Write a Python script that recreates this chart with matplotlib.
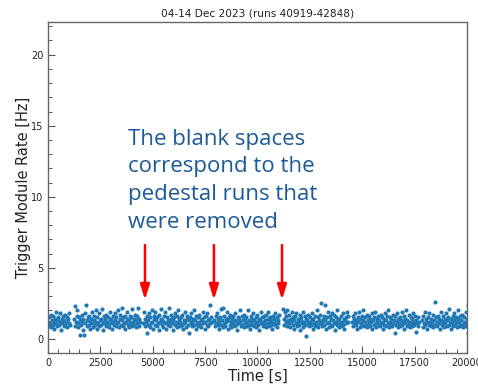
import numpy as np
import matplotlib
matplotlib.use("Agg")
import matplotlib.pyplot as plt
from matplotlib.ticker import MultipleLocator

# run blocks (start, stop) in seconds, pedestal runs already cut out
blocks = [(0, 1050), (1240, 4390), (4550, 7810), (7940, 11030),
          (11220, 14330), (14510, 17700), (17850, 20100)]

# trigger module rate per time bin [Hz], one list per block
rate1 = [1.2, 0.9, 1.5, 1.1, 1.7, 0.8, 1.3, 1.0, 1.6, 1.2, 0.7, 1.4, 1.9, 1.1, 0.9,
         1.3, 1.5, 1.0, 1.8, 1.2, 0.6, 1.4, 1.1, 1.6, 0.9, 1.3, 1.7, 1.0, 1.2, 1.5,
         0.8, 1.4, 1.1, 1.8, 1.0]
rate2 = [1.4, 2.3, 0.9, 1.2, 1.6, 2.0, 1.1, 0.8, 1.5, 0.3, 1.3, 1.0, 1.7, 1.2, 0.6,
         1.4, 0.3, 1.1, 1.8, 2.4, 0.9, 1.3, 1.5, 1.0, 1.6, 0.7, 1.2, 1.4, 1.9, 1.1,
         0.8, 1.3, 1.6, 1.0, 2.0, 1.2, 0.7, 1.5, 1.1, 1.8, 0.9, 1.3, 1.4, 1.0, 2.1,
         1.2, 0.6, 1.6, 1.1, 1.4, 0.9, 1.7, 1.2, 1.0, 1.5, 0.8, 1.3, 1.9, 1.1, 1.4,
         0.7, 1.2, 1.6, 1.0, 1.8, 1.3, 0.9, 1.5, 1.1, 2.0, 1.2, 0.8, 1.4, 1.7, 1.0,
         1.3, 2.2, 0.9, 1.5, 1.1, 1.6, 0.7, 1.2, 1.4, 1.9, 1.0, 1.3, 0.8, 1.6, 1.1,
         1.5, 2.1, 0.9, 1.2, 1.4, 1.0, 1.7, 0.8, 1.3, 1.6, 1.1, 2.2, 0.9, 1.4, 1.2]
rate3 = [1.1, 1.9, 0.9, 1.4, 1.2, 0.4, 1.6, 1.0, 1.3, 1.8, 0.8, 1.5, 1.1, 2.0, 1.2,
         0.7, 1.4, 1.6, 1.0, 1.9, 1.3, 0.9, 1.5, 1.1, 1.7, 0.6, 1.2, 1.4, 2.1, 1.0,
         1.3, 0.8, 1.6, 1.2, 1.9, 1.1, 0.7, 1.5, 1.3, 1.0, 2.2, 1.2, 0.9, 1.4, 1.7,
         1.1, 0.6, 1.3, 1.5, 1.0, 1.8, 1.2, 0.8, 1.6, 1.1, 2.0, 1.4, 0.9, 1.2, 1.5,
         1.0, 1.7, 0.7, 1.3, 1.1, 1.9, 1.2, 0.8, 1.4, 1.6, 1.0, 1.3, 0.4, 1.5, 1.1,
         1.8, 1.2, 0.9, 1.4, 1.0, 2.0, 1.3, 0.7, 1.6, 1.1, 1.5, 0.9, 1.2, 1.7, 1.0,
         1.4, 0.8, 1.3, 1.9, 1.1, 1.5, 0.7, 1.2, 1.6, 1.0, 1.8, 1.3, 0.9, 1.4, 2.4,
         1.1, 1.5, 1.2]
rate4 = [1.3, 0.9, 1.6, 1.1, 1.8, 1.0, 1.4, 0.7, 1.2, 1.5, 2.1, 1.0, 1.3, 0.8, 2.2,
         1.1, 1.6, 0.9, 1.4, 1.2, 1.9, 0.7, 1.3, 1.5, 1.0, 1.7, 1.2, 0.8, 1.4, 1.1,
         1.6, 0.9, 1.3, 1.8, 1.0, 1.2, 0.6, 1.5, 1.1, 1.4, 2.0, 1.2, 0.9, 1.6, 1.0,
         1.3, 1.7, 0.8, 1.4, 1.1, 1.5, 0.9, 1.2, 2.0, 1.0, 1.3, 0.7, 1.6, 1.2, 1.4,
         1.0, 1.8, 0.9, 1.3, 1.1, 1.5, 0.8, 1.2, 1.7, 1.0, 1.4, 0.6, 1.3, 1.9, 1.1,
         1.5, 0.9, 1.2, 1.6, 1.0, 1.3, 0.8, 1.7, 1.1, 1.4, 1.9, 0.9, 1.2, 1.5, 1.0,
         1.3, 0.7, 1.6, 1.1, 1.4, 1.8, 1.0, 1.2, 0.8, 1.5, 1.3, 1.1, 1.7]
rate5 = [2.1, 1.4, 1.0, 1.9, 1.2, 1.6, 0.9, 2.0, 1.3, 1.1, 1.7, 0.8, 1.4, 1.2, 1.9,
         1.0, 1.5, 0.7, 1.3, 1.6, 1.1, 1.8, 0.9, 1.2, 1.4, 1.0, 1.7, 0.6, 1.3, 1.5,
         1.1, 1.9, 0.8, 1.2, 1.6, 1.0, 1.4, 0.2, 1.3, 1.1, 1.7, 0.9, 1.5, 1.2, 1.0,
         1.8, 1.3, 0.7, 1.4, 1.1, 1.6, 0.9, 1.2, 2.0, 1.0, 1.5, 0.8, 1.3, 1.1, 1.7,
         2.5, 1.2, 0.9, 1.4, 1.6, 1.0, 2.4, 1.3, 0.7, 1.5, 1.1, 1.9, 0.8, 1.2, 1.6,
         1.0, 1.4, 1.8, 0.9, 1.3, 1.1, 1.7, 0.6, 1.2, 1.5, 1.0, 2.0, 1.3, 0.8, 1.4,
         1.1, 1.6, 0.9, 1.2, 1.8, 1.0, 1.4, 0.7, 1.3, 1.5, 1.1, 1.9, 1.2, 1.6]
rate6 = [1.2, 1.6, 0.9, 1.4, 1.1, 1.8, 1.0, 1.3, 0.7, 1.5, 1.2, 1.9, 0.8, 1.4, 1.1,
         1.6, 1.0, 1.3, 2.0, 0.9, 1.2, 1.5, 1.0, 1.7, 0.8, 1.3, 1.1, 1.6, 0.9, 1.4,
         1.2, 1.8, 0.7, 1.3, 1.5, 1.0, 1.9, 1.1, 0.8, 1.4, 1.2, 1.6, 1.0, 1.3, 0.9,
         1.7, 1.1, 1.5, 0.7, 1.2, 1.4, 1.0, 1.8, 0.9, 1.3, 1.6, 1.1, 2.0, 0.8, 1.2,
         1.5, 1.0, 1.4, 0.9, 1.7, 1.1, 1.3, 0.4, 1.6, 1.0, 1.2, 1.8, 0.8, 1.4, 1.1,
         1.5, 0.9, 1.3, 1.9, 1.0, 1.2, 0.7, 1.6, 1.1, 1.4, 2.0, 0.9, 1.3, 1.0, 1.7,
         1.2, 0.8, 1.5, 1.1, 1.4, 0.9, 1.8, 1.2, 1.0, 1.6, 0.5, 1.3, 1.1, 1.5, 0.9,
         1.2]
rate7 = [1.3, 0.8, 1.6, 1.1, 1.9, 1.0, 1.4, 0.7, 1.2, 1.5, 1.0, 1.8, 1.2, 0.9, 1.4,
         1.1, 1.7, 0.8, 1.3, 2.6, 1.0, 1.5, 1.2, 0.9, 1.6, 1.1, 1.4, 0.7, 1.3, 1.9,
         1.0, 1.2, 1.6, 0.8, 1.4, 1.1, 1.8, 0.9, 1.3, 1.5, 1.0, 2.1, 1.2, 0.7, 1.4,
         1.1, 1.6, 0.9, 1.3, 1.8, 1.0, 1.2, 1.5, 0.8, 1.4, 2.0, 1.1, 0.9, 1.6, 1.3,
         1.0, 1.7, 0.8, 1.2, 1.5, 1.1, 1.9, 0.9, 1.4, 0.4, 2.4, 1.2]

rates = [rate1, rate2, rate3, rate4, rate5, rate6, rate7]

# removed pedestal runs pointed out with arrows
gap_times = [4630, 7920, 11170]

title = "04-14 Dec 2023 (runs 40919-42848)"
note = "The blank spaces\ncorrespond to the\npedestal runs that\nwere removed"

fig = plt.figure(figsize=(4.78, 3.84), dpi=100)
ax = fig.add_axes([0.1004, 0.0807, 0.8766, 0.862])

for (t0, t1), r in zip(blocks, rates):
    t = np.linspace(t0, t1, len(r))
    ax.plot(t, r, "o", color="#1f77b4", ms=3.0, mew=0)

for tg in gap_times:
    ax.annotate("", xy=(tg, 2.75), xytext=(tg, 6.6),
                arrowprops=dict(arrowstyle="-|>,head_length=0.9,head_width=0.28",
                                color="red", lw=1.8, shrinkA=0, shrinkB=0))

ax.text(3800, 14.8, note, fontsize=16, family="Open Sans", color="#1b5a98",
        va="top", ha="left", linespacing=1.42)

ax.set_xlim(0, 20000)
ax.set_ylim(-1, 22.3)
ax.xaxis.set_major_locator(MultipleLocator(2500))
ax.xaxis.set_minor_locator(MultipleLocator(500))
ax.yaxis.set_major_locator(MultipleLocator(5))
ax.yaxis.set_minor_locator(MultipleLocator(1))
ax.tick_params(which="both", direction="in", colors="#555555", labelcolor="#222222",
               labelsize=7, top=False, right=False)
ax.tick_params(which="major", length=5, width=0.8)
ax.tick_params(which="minor", length=3, width=0.7)
for s in ax.spines.values():
    s.set_color("#666666")
    s.set_linewidth(1.0)

ax.set_title(title, fontsize=7.6, color="#222222", pad=4)
ax.set_xlabel("Time [s]", fontsize=10.5, color="#222222", labelpad=1)
ax.set_ylabel("Trigger Module Rate [Hz]", fontsize=10.5, color="#222222", labelpad=0)

fig.savefig("out.png", dpi=100)
